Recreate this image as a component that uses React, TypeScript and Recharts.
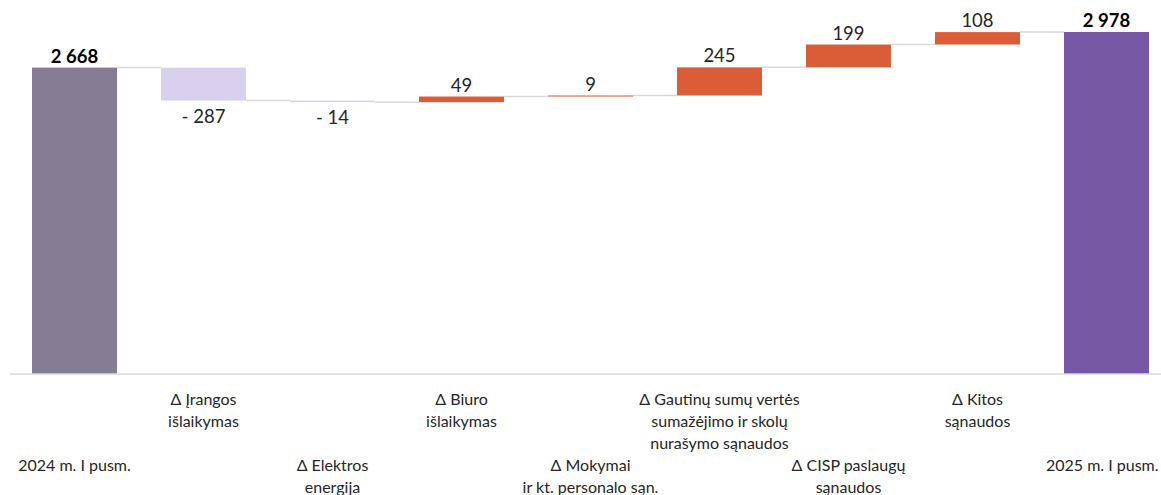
import { Bar, BarChart, LabelList, XAxis, YAxis } from "recharts";

const categories = [
  "2024 m. I pusm.",
  "Δ Įrangos\nišlaikymas",
  "Δ Elektros\nenergija",
  "Δ Biuro\nišlaikymas",
  "Δ Mokymai\nir kt. personalo sąn.",
  "Δ Gautinų sumų vertės\nsumažėjimo ir skolų\nnurašymo sąnaudos",
  "Δ CISP paslaugų\nsąnaudos",
  "Δ Kitos\nsąnaudos",
  "2025 m. I pusm.",
];
const startValue = 2668;
const deltas = [-287, -14, 49, 9, 245, 199, 108];
const endValue = 2978;

const COLORS = {
  total: "#867c94",
  end: "#7657a3",
  down: "#d9d0ee",
  up: "#db5d37",
};
const BAR_SIZE = 85;
const CONNECTOR = 44;
const FONT = "Lato, 'Open Sans', sans-serif";

type Row = { name: string; base: number; value: number; delta: number; kind: "total" | "end" | "up" | "down" };

function buildRows(): Row[] {
  const rows: Row[] = [{ name: categories[0], base: 0, value: startValue, delta: startValue, kind: "total" }];
  let running = startValue;
  deltas.forEach((d, i) => {
    const next = running + d;
    rows.push({
      name: categories[i + 1],
      base: Math.min(running, next),
      value: Math.abs(d),
      delta: d,
      kind: d < 0 ? "down" : "up",
    });
    running = next;
  });
  rows.push({ name: categories[categories.length - 1], base: 0, value: endValue, delta: endValue, kind: "end" });
  return rows;
}

const rows = buildRows();

const fmt = (n: number) => {
  const s = Math.abs(n).toString().replace(/\B(?=(\d{3})+(?!\d))/g, " ");
  return n < 0 ? `- ${s}` : s;
};

function WaterfallBar(props: any) {
  const { x, y, width, height, index } = props;
  const row = rows[index];
  const level = row.kind === "down" ? y + height : y;
  const last = index === rows.length - 1;
  return (
    <g>
      <rect x={x} y={y} width={width} height={Math.max(height, 1)} fill={COLORS[row.kind]} />
      {!last && (
        <line x1={x + width} x2={x + width + CONNECTOR} y1={level} y2={level} stroke="#d9d9d9" strokeWidth={1.5} />
      )}
    </g>
  );
}

function ValueLabel(props: any) {
  const { x, y, width, height, index } = props;
  const row = rows[index];
  const bold = row.kind === "total" || row.kind === "end";
  const ty = row.kind === "down" ? y + height + 22 : y - 5;
  return (
    <text
      x={x + width / 2}
      y={ty}
      textAnchor="middle"
      fontFamily={FONT}
      fontSize={18.5}
      fontWeight={bold ? 700 : 400}
      fill={bold ? "#000" : "#262626"}
    >
      {fmt(row.delta)}
    </text>
  );
}

function CategoryTick(props: any) {
  const { x, y, payload, index } = props;
  const lines = String(payload.value).split("\n");
  const start = index % 2 === 1 ? 31 : 97;
  // last label sits against the right edge, keep it inside
  const last = index === categories.length - 1;
  const tx = last ? x + 52 : x;
  return (
    <text
      x={tx}
      y={y + start}
      textAnchor={last ? "end" : "middle"}
      fontFamily={FONT}
      fontSize={16}
      fill="#262626"
    >
      {lines.map((l, i) => (
        <tspan key={i} x={tx} dy={i === 0 ? 0 : 22}>
          {l}
        </tspan>
      ))}
    </text>
  );
}

export default function App() {
  return (
    <div style={{ position: "absolute", left: 0, top: 0, width: 1161, height: 495, overflow: "hidden", background: "#fff" }}>
      <BarChart width={1171} height={495} data={rows} margin={{ top: 32, right: 0, bottom: 91, left: 10 }}>
        <XAxis
          dataKey="name"
          interval={0}
          tickLine={false}
          tickSize={0}
          tickMargin={0}
          height={30}
          axisLine={{ stroke: "#d9d9d9", strokeWidth: 1.5 }}
          tick={<CategoryTick />}
        />
        <YAxis hide domain={[0, endValue]} />
        <Bar dataKey="base" stackId="w" fill="transparent" barSize={BAR_SIZE} isAnimationActive={false} />
        <Bar dataKey="value" stackId="w" barSize={BAR_SIZE} shape={<WaterfallBar />} isAnimationActive={false}>
          <LabelList dataKey="value" content={<ValueLabel />} />
        </Bar>
      </BarChart>
    </div>
  );
}
